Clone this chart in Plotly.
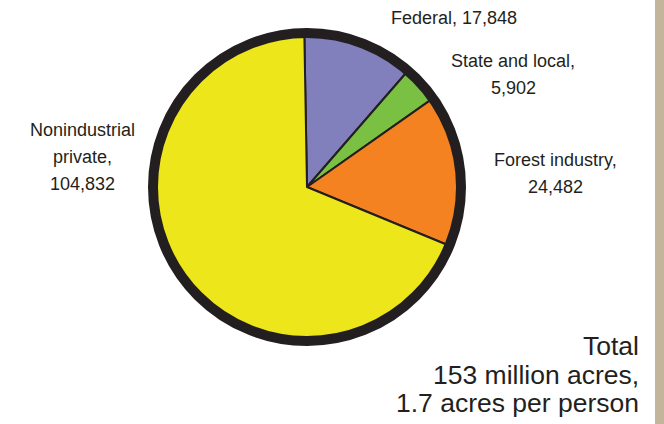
import plotly.graph_objects as go

# Timberland ownership, thousand acres
owners = ["Federal", "State and local", "Forest industry", "Nonindustrial private"]
acres = [17848, 5902, 24482, 104832]
colors = ["#8180bc", "#7ac143", "#f58220", "#ede61b"]

# How each owner's label is broken into lines next to the pie
label_lines = [
    ["Federal, {v}"],
    ["State and local,", "{v}"],
    ["Forest industry,", "{v}"],
    ["Nonindustrial", "private,", "{v}"],
]
total_lines = ["Total", "153 million acres,", "1.7 acres per person"]

W, H = 664, 424
CX, CY, R = 307, 187, 154  # pie centre and radius in pixels

FONT = "Liberation Sans, Arial, Helvetica, sans-serif"
INK = "#231f20"


def px(x):
    return x / W


def py(y):
    return 1 - y / H


fig = go.Figure(
    go.Pie(
        labels=owners,
        values=acres,
        sort=False,
        direction="clockwise",
        rotation=-1,
        marker=dict(colors=colors, line=dict(color=INK, width=2)),
        textinfo="none",
        hoverinfo="label+value",
        domain=dict(x=[px(CX - R), px(CX + R)], y=[py(CY + R), py(CY - R)]),
        showlegend=False,
    )
)

# Label anchor points (centre x, first line y, line step) for each owner
label_pos = [(454, 18, 27), (513, 61, 27), (555, 160, 27), (82, 130, 27)]

annotations = []
for lines, v, (lx, ly, step) in zip(label_lines, acres, label_pos):
    for i, line in enumerate(lines):
        annotations.append(dict(
            x=px(lx), y=py(ly + i * step), xref="paper", yref="paper",
            text=line.format(v=f"{v:,}"), showarrow=False,
            xanchor="center", yanchor="middle",
            font=dict(family=FONT, size=18, color=INK),
        ))

for i, line in enumerate(total_lines):
    annotations.append(dict(
        x=px(641), y=py(346 + i * 28.5), xref="paper", yref="paper",
        text=line, showarrow=False, xanchor="right", yanchor="middle",
        font=dict(family=FONT, size=26.5, color=INK),
    ))

shapes = [
    # heavy outer rim of the pie
    dict(type="circle", xref="paper", yref="paper",
         x0=px(CX - R), x1=px(CX + R), y0=py(CY + R), y1=py(CY - R),
         line=dict(color=INK, width=10), fillcolor="rgba(0,0,0,0)", layer="above"),
    # page-edge band on the right
    dict(type="rect", xref="paper", yref="paper",
         x0=px(655), x1=1, y0=0, y1=1,
         line=dict(width=0), fillcolor="#c2b59b", layer="below"),
]

fig.update_layout(
    width=W, height=H,
    margin=dict(l=0, r=0, t=0, b=0),
    paper_bgcolor="white", plot_bgcolor="white",
    annotations=annotations, shapes=shapes,
)

fig.write_html("out.html")
